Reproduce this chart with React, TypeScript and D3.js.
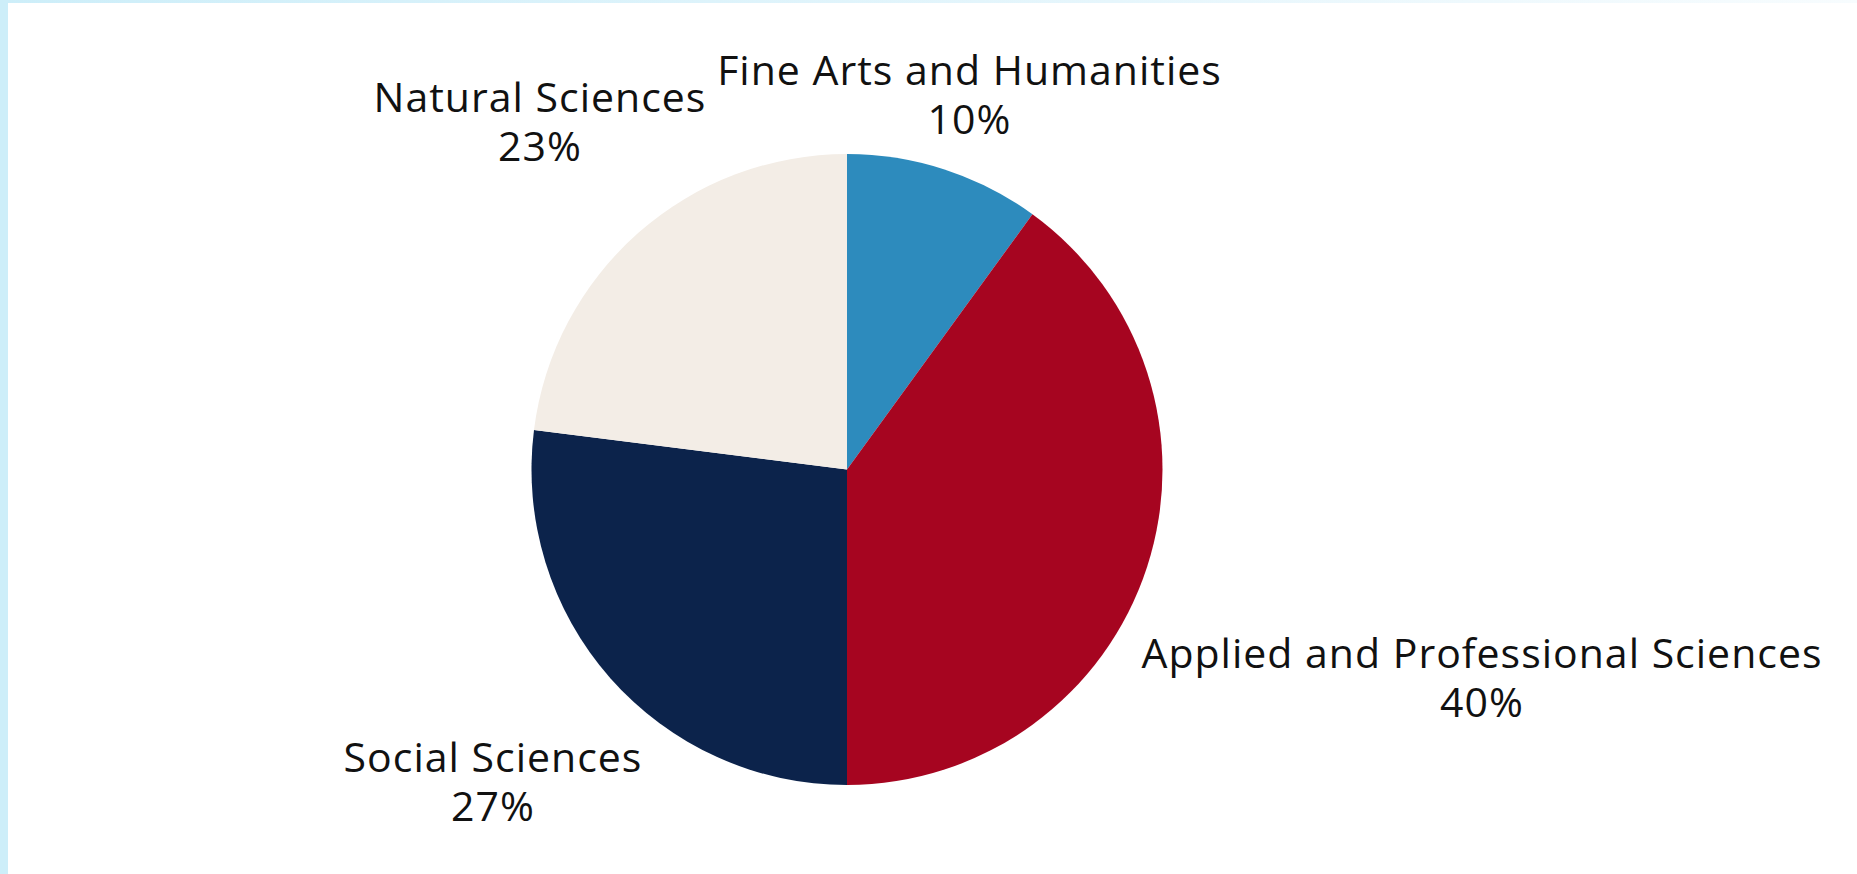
import React from "react";
import * as d3 from "d3";

const categories = [
  "Fine Arts and Humanities",
  "Applied and Professional Sciences",
  "Social Sciences",
  "Natural Sciences",
];
const values = [10, 40, 27, 23];
const colors = ["#2d8bbd", "#a60520", "#0c234b", "#f3ede6"];

const W = 1857;
const H = 874;
const cx = 847;
const cy = 469.5;
const R = 315.5;

// label anchor positions (center x, first baseline y)
const labelPos: [number, number][] = [
  [969.5, 85],
  [1482, 668],
  [493, 772],
  [540, 112],
];

export default function App() {
  const pie = d3
    .pie<number>()
    .sort(null)
    .value((d) => d);
  const arcs = pie(values);
  const arc = d3.arc<d3.PieArcDatum<number>>().innerRadius(0).outerRadius(R);

  return (
    <div style={{ position: "absolute", left: 0, top: 0 }}>
      <svg width={W} height={H} style={{ display: "block" }}>
        <defs>
          <linearGradient id="topg" x1="0" x2="1" y1="0" y2="0">
            <stop offset="0" stopColor="#cdeef9" />
            <stop offset="0.6" stopColor="#e6f6fc" />
            <stop offset="1" stopColor="#f7fcfe" />
          </linearGradient>
        </defs>
        <rect x={0} y={0} width={W} height={H} fill="#ffffff" />
        <rect x={0} y={0} width={W} height={3} fill="url(#topg)" />
        <rect x={0} y={0} width={8} height={H} fill="#cdeef9" />
        <g transform={`translate(${cx},${cy})`}>
          {arcs.map((a, i) => (
            <path key={categories[i]} d={arc(a) || ""} fill={colors[i]} />
          ))}
        </g>
        {categories.map((c, i) => (
          <text
            key={c}
            x={labelPos[i][0]}
            y={labelPos[i][1]}
            textAnchor="middle"
            fontFamily="'Open Sans', sans-serif"
            fontSize={41}
            letterSpacing={1}
            fill="#111"
            style={{ fontVariantLigatures: "none" }}
          >
            <tspan x={labelPos[i][0]}>{c}</tspan>
            <tspan x={labelPos[i][0]} dy={48.5}>
              {values[i]}%
            </tspan>
          </text>
        ))}
      </svg>
    </div>
  );
}
